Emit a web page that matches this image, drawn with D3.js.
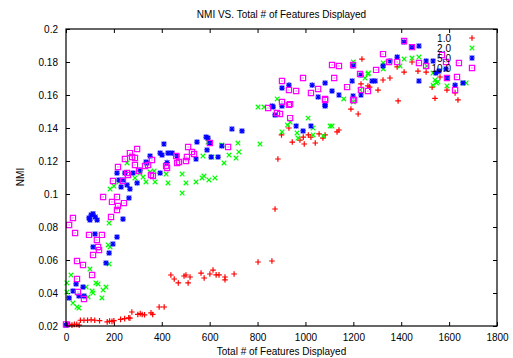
<!DOCTYPE html>
<html>
<head>
<meta charset="utf-8">
<script src="https://cdn.jsdelivr.net/npm/d3@7"></script>
<style>
  body { margin: 0; background: #fff; }
  svg { display: block; font-family: "Liberation Sans", Arial, sans-serif; }
</style>
</head>
<body>
<svg id="chart" width="513" height="358"></svg>
<script>
// series names shown in the key
const seriesNames = ['1.0', '2.0', '5.0', '10.0'];
const seriesColors = ['#ff0000', '#00ff00', '#0000ff', '#ff00ff'];

const xTicks = [0, 200, 400, 600, 800, 1000, 1200, 1400, 1600, 1800];
const yTicks = [0.02, 0.04, 0.06, 0.08, 0.1, 0.12, 0.14, 0.16, 0.18, 0.2];

// [features displayed, NMI]
const series1 = [
  [5, 0.021], [15, 0.021], [25, 0.0205], [35, 0.021], [45, 0.021], [55, 0.0205],
  [60, 0.0235], [75, 0.0235], [90, 0.0235], [105, 0.0238], [120, 0.0235], [140, 0.0232],
  [172, 0.0225], [182, 0.023], [192, 0.0228], [200, 0.0232], [228, 0.024], [245, 0.0245], [262, 0.025],
  [267, 0.0248], [275, 0.0285], [300, 0.027], [310, 0.0275], [318, 0.027], [328, 0.0268],
  [355, 0.028], [362, 0.027], [389, 0.0315], [410, 0.0315],
  [438, 0.0509], [452, 0.0485], [469, 0.0461], [493, 0.0503], [501, 0.0509], [510, 0.0461],
  [518, 0.0497], [564, 0.0521], [577, 0.0491], [601, 0.0515], [614, 0.0539], [627, 0.051],
  [639, 0.051], [664, 0.0497], [664, 0.048], [702, 0.0515], [802, 0.0588], [860, 0.0594],
  [873, 0.0909], [885, 0.1212], [900, 0.1358], [931, 0.14], [945, 0.1315], [977, 0.1327],
  [991, 0.1345], [995, 0.1303], [1012, 0.1358], [1023, 0.1345], [1041, 0.1309], [1057, 0.1364],
  [1073, 0.1339], [1082, 0.1358], [1132, 0.1376], [1140, 0.1388], [1190, 0.1515], [1220, 0.1485],
  [1387, 0.1564], [1236, 0.1818], [1232, 0.1667], [1261, 0.1655], [1268, 0.1648], [1303, 0.163],
  [1324, 0.1691], [1353, 0.1703], [1383, 0.177], [1412, 0.1739], [1445, 0.18], [1470, 0.1745],
  [1504, 0.1739], [1529, 0.1648], [1541, 0.158], [1562, 0.1709], [1591, 0.163], [1625, 0.1612],
  [1637, 0.157]
];

const series2 = [
  [21, 0.0509], [4, 0.0461], [4, 0.0406], [29, 0.0339], [46, 0.0315], [54, 0.0309], [84, 0.0436],
  [92, 0.0376], [109, 0.0412], [113, 0.04], [125, 0.0461], [134, 0.0455], [150, 0.037], [155, 0.0418],
  [167, 0.0436], [100, 0.0545], [180, 0.0576], [176, 0.0691], [184, 0.0679], [180, 0.0824],
  [184, 0.103], [200, 0.1048], [221, 0.1073], [255, 0.1188], [288, 0.1097], [309, 0.1127],
  [322, 0.1103], [334, 0.1073], [351, 0.1133], [368, 0.1139], [372, 0.1073], [418, 0.1121],
  [426, 0.1067], [485, 0.1121], [485, 0.1006], [501, 0.1067], [543, 0.1073], [568, 0.1097],
  [576, 0.1109], [597, 0.1085], [622, 0.1097], [572, 0.123], [593, 0.1315], [651, 0.1297],
  [660, 0.1188], [718, 0.1309], [722, 0.1255], [710, 0.1218], [681, 0.1236], [610, 0.1224],
  [802, 0.1527], [827, 0.1527], [810, 0.1303], [1011, 0.146], [936, 0.1436], [902, 0.1376],
  [965, 0.137], [969, 0.1339], [1032, 0.14], [1032, 0.1358], [1103, 0.1412], [1111, 0.1412],
  [1074, 0.1352], [925, 0.1418], [882, 0.1576], [1160, 0.1576], [1200, 0.18], [1249, 0.1703],
  [1261, 0.1727], [1200, 0.1558], [1228, 0.163], [1263, 0.1733], [1325, 0.1758], [1325, 0.1794],
  [1395, 0.1776], [1412, 0.1818], [1445, 0.1824], [1474, 0.183], [1507, 0.1776], [1533, 0.1733],
  [1541, 0.1691], [1547, 0.1673], [1553, 0.168], [1533, 0.166], [1591, 0.1655], [1658, 0.1673],
  [1671, 0.1673]
];

const series3 = [
  [0, 0.0205], [29, 0.0412], [13, 0.037], [42, 0.0455], [71, 0.0436], [54, 0.0382], [75, 0.0382],
  [113, 0.0679], [167, 0.0582], [180, 0.0642], [196, 0.0697], [121, 0.0758], [213, 0.0739],
  [96, 0.0855], [105, 0.0873], [113, 0.088], [122, 0.0861], [130, 0.0842], [100, 0.0842],
  [238, 0.0848], [263, 0.0976], [230, 0.1042], [267, 0.103], [255, 0.1055], [297, 0.1067],
  [221, 0.1085], [238, 0.1085], [213, 0.1127], [246, 0.1127], [280, 0.1127], [309, 0.1145],
  [334, 0.1194], [338, 0.1188], [351, 0.123], [393, 0.1127], [393, 0.1248], [401, 0.1236],
  [422, 0.119], [426, 0.1248], [443, 0.1248], [464, 0.123], [409, 0.1303], [543, 0.1212],
  [547, 0.1315], [606, 0.1224], [635, 0.1224], [651, 0.1291], [585, 0.1345], [593, 0.1339],
  [601, 0.1309], [589, 0.1267], [693, 0.1394], [735, 0.1382], [865, 0.1527], [873, 0.1479],
  [902, 0.1533], [961, 0.1412], [990, 0.1382], [1023, 0.1412], [1082, 0.1533], [902, 0.1642],
  [931, 0.166], [1028, 0.166], [1053, 0.1588], [1082, 0.1673], [1111, 0.1624], [1140, 0.16],
  [1082, 0.154], [1195, 0.1685], [1199, 0.1776], [1232, 0.1721], [1232, 0.16], [1199, 0.1594],
  [861, 0.1533], [1278, 0.1685], [1291, 0.1685], [1324, 0.1776], [1353, 0.1806], [1383, 0.183],
  [1412, 0.1921], [1445, 0.189], [1474, 0.1897], [1474, 0.1685], [1504, 0.1806], [1533, 0.1806],
  [1545, 0.1733], [1558, 0.1745], [1587, 0.1758], [1591, 0.1703], [1625, 0.166], [1658, 0.1673]
];

const series4 = [
  [0, 0.021], [13, 0.0812], [29, 0.0855], [38, 0.0764], [46, 0.0594], [46, 0.0485], [71, 0.057],
  [109, 0.0509], [50, 0.0406], [75, 0.0364], [96, 0.0752], [129, 0.0721], [134, 0.0679],
  [138, 0.066], [113, 0.063], [150, 0.0752], [188, 0.0861], [155, 0.0982], [192, 0.0952],
  [213, 0.0982], [217, 0.0927], [213, 0.0903], [242, 0.0945], [196, 0.1079], [217, 0.1164],
  [246, 0.1212], [267, 0.1248], [276, 0.1224], [288, 0.1218], [297, 0.1273], [288, 0.1176],
  [305, 0.1139], [255, 0.1127], [259, 0.1115], [238, 0.1079], [330, 0.117], [343, 0.1176],
  [359, 0.1206], [363, 0.1109], [355, 0.1115], [422, 0.1158], [460, 0.123], [464, 0.1188],
  [472, 0.1194], [501, 0.12], [505, 0.1224], [510, 0.1285], [535, 0.1242], [526, 0.1255],
  [601, 0.1309], [677, 0.1285], [418, 0.117], [844, 0.1521], [881, 0.1491], [894, 0.1485],
  [902, 0.1558], [936, 0.1545], [936, 0.146], [1082, 0.157], [1203, 0.157], [902, 0.1685],
  [931, 0.163], [961, 0.1624], [990, 0.1703], [1023, 0.1612], [1053, 0.1636], [1082, 0.1576],
  [1120, 0.1703], [1111, 0.1782], [1140, 0.1776], [1174, 0.1648], [1199, 0.1782], [1228, 0.1727],
  [1232, 0.163], [1261, 0.1624], [1199, 0.157], [931, 0.154], [1295, 0.1752], [1324, 0.1848],
  [1349, 0.18], [1383, 0.18], [1412, 0.1927], [1445, 0.189], [1474, 0.1794], [1504, 0.1776],
  [1570, 0.1842], [1587, 0.18], [1641, 0.1794], [1591, 0.1703], [1633, 0.1709], [1625, 0.163]
];

const allSeries = [series1, series2, series3, series4];

// gnuplot-like point shapes
const plusPath = 'M-2.8,0H2.8M0,-2.8V2.8';
const crossPath = 'M-2.3,-2.3L2.3,2.3M-2.3,2.3L2.3,-2.3';
const starPath = plusPath + crossPath;
const boxPath = 'M-2.6,-2.6H2.6V2.6H-2.6Z';
const shapes = [plusPath, crossPath, starPath, boxPath];

function drawChart() {
  const width = 513;
  const height = 358;
  const margin = {top: 29, right: 16, bottom: 32, left: 66};
  const innerW = width - margin.left - margin.right;
  const innerH = height - margin.top - margin.bottom;

  const svg = d3.select('svg#chart');

  const x = d3.scaleLinear().domain([0, 1800]).range([margin.left, margin.left + innerW]);
  const y = d3.scaleLinear().domain([0.02, 0.2]).range([margin.top + innerH, margin.top]);

  // Title and axis labels
  svg.append('text')
    .attr('x', margin.left + innerW / 2)
    .attr('y', 18)
    .attr('text-anchor', 'middle')
    .attr('font-size', 10)
    .text('NMI VS. Total # of Features Displayed');

  svg.append('text')
    .attr('x', margin.left + innerW / 2)
    .attr('y', 355)
    .attr('text-anchor', 'middle')
    .attr('font-size', 10)
    .text('Total # of Features Displayed');

  svg.append('text')
    .attr('transform', 'translate(24,177) rotate(-90)')
    .attr('text-anchor', 'middle')
    .attr('font-size', 10)
    .text('NMI');

  // Axes with inward ticks, mirrored
  const fmtY = d => String(+d.toFixed(2));

  svg.append('g')
    .attr('transform', `translate(0,${margin.top + innerH})`)
    .call(d3.axisBottom(x).tickValues(xTicks).tickSize(-4).tickPadding(8).tickFormat(d3.format('d')))
    .call(g => g.select('.domain').remove())
    .call(g => g.selectAll('text').attr('font-size', 10).attr('font-family', 'Liberation Sans, Arial, sans-serif'));

  svg.append('g')
    .attr('transform', `translate(0,${margin.top})`)
    .call(d3.axisTop(x).tickValues(xTicks).tickSize(-4).tickFormat(''))
    .call(g => g.select('.domain').remove());

  svg.append('g')
    .attr('transform', `translate(${margin.left},0)`)
    .call(d3.axisLeft(y).tickValues(yTicks).tickSize(-4).tickPadding(8).tickFormat(fmtY))
    .call(g => g.select('.domain').remove())
    .call(g => g.selectAll('text').attr('font-size', 10).attr('font-family', 'Liberation Sans, Arial, sans-serif'));

  svg.append('g')
    .attr('transform', `translate(${margin.left + innerW},0)`)
    .call(d3.axisRight(y).tickValues(yTicks).tickSize(-4).tickFormat(''))
    .call(g => g.select('.domain').remove());

  svg.selectAll('.tick line').attr('stroke', '#000');

  // Points
  allSeries.forEach((data, i) => {
    const g = svg.append('g')
      .attr('fill', 'none')
      .attr('stroke', seriesColors[i])
      .attr('stroke-width', 1.2);
    g.selectAll('path').data(data).enter()
      .append('path')
      .attr('transform', d => `translate(${x(d[0])},${y(d[1])})`)
      .attr('d', shapes[i]);
    if (i === 3) {
      g.selectAll('rect.dot').data(data).enter()
        .append('rect')
        .attr('class', 'dot')
        .attr('x', d => x(d[0]) - 0.5)
        .attr('y', d => y(d[1]) - 0.5)
        .attr('width', 1)
        .attr('height', 1)
        .attr('stroke', 'none')
        .attr('fill', seriesColors[i]);
    }
  });

  // Frame
  svg.append('rect')
    .attr('x', margin.left)
    .attr('y', margin.top)
    .attr('width', innerW)
    .attr('height', innerH)
    .attr('fill', 'none')
    .attr('stroke', '#000')
    .attr('stroke-width', 1.2);

  // Key
  const key = svg.append('g');
  seriesNames.forEach((name, i) => {
    const ky = 38 + i * 10;
    key.append('text')
      .attr('x', 451)
      .attr('y', ky)
      .attr('dy', '0.35em')
      .attr('text-anchor', 'end')
      .attr('font-size', 10)
      .text(name);
    key.append('path')
      .attr('transform', `translate(472,${ky})`)
      .attr('d', shapes[i])
      .attr('fill', 'none')
      .attr('stroke', seriesColors[i])
      .attr('stroke-width', 1.2);
  });
  key.append('rect')
    .attr('x', 471.5).attr('y', 67.5).attr('width', 1).attr('height', 1)
    .attr('fill', seriesColors[3]);
}

window.addEventListener('load', drawChart);
</script>
</body>
</html>
